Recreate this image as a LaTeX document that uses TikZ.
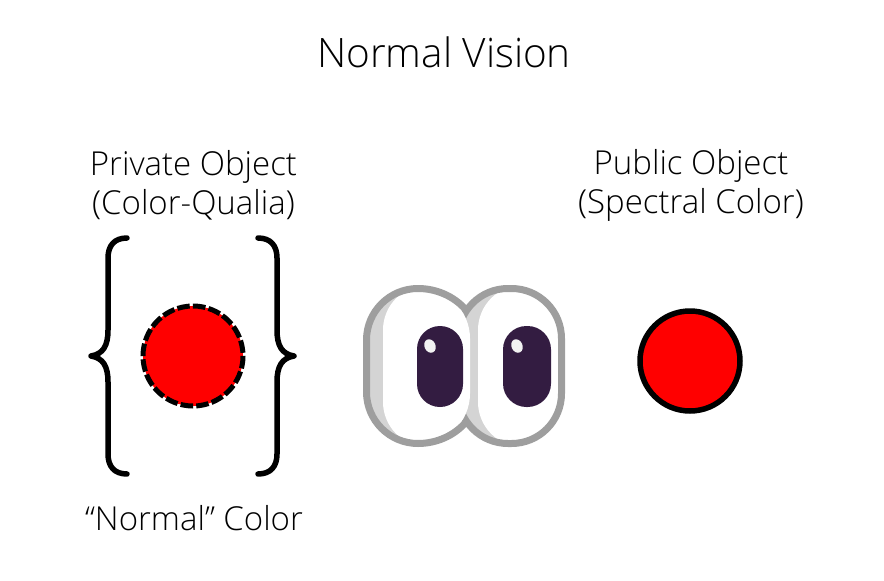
\documentclass[tikz,border=0pt]{standalone}
\usepackage{fontspec}
\setmainfont{Open Sans Light}
\definecolor{eyegray}{HTML}{9E9E9E}
\definecolor{eyeshade}{HTML}{D4D4D4}
\definecolor{pupil}{HTML}{331C41}
\definecolor{glint}{HTML}{F2F2F2}
\tikzset{
  labeltext/.style={font=\fontsize{33}{39}\selectfont, align=center, text=black},
  bracket/.style={line width=5.5pt, line cap=round, line join=round, color=black},
  eyeline/.style={line width=7pt, color=eyegray},
}
\begin{document}
\begin{tikzpicture}[x=1pt,y=-1pt]
\useasboundingbox (0,0) rectangle (884,581);

\node [labeltext, font=\fontsize{40.5}{44}\selectfont] (title) at (444,52) {Normal Vision};
\node [labeltext] (private) at (193.5,185) {Private Object\\(Color-Qualia)};
\node [labeltext] (public) at (691,185) {Public Object\\(Spectral Color)};
\node [labeltext] (normal) at (194,518) {``Normal'' Color};

% brackets
\draw [bracket] (127,238) .. controls (114,238) and (108,246) .. (108,258) -- (108,330)
  .. controls (108,346) and (103,354) .. (91,356) .. controls (103,358) and (108,366) .. (108,382)
  -- (108,454) .. controls (108,466) and (114,474) .. (127,474);
\draw [bracket] (258,238) .. controls (271,238) and (277,246) .. (277,258) -- (277,330)
  .. controls (277,346) and (282,354) .. (294,356) .. controls (282,358) and (277,366) .. (277,382)
  -- (277,454) .. controls (277,466) and (271,474) .. (258,474);

% private and public colour
\node [circle, minimum size=100pt, inner sep=0pt, fill=red] (qualia) at (193,356) {};
\draw [line width=5pt, dash pattern=on 12.5pt off 3.2pt] (193,306) arc (-90:270:50);
\node [circle, minimum size=100pt, inner sep=0pt, fill=red, draw=black, line width=5.5pt] (spectral) at (690,361) {};

% right eye
\fill [eyeshade, rounded corners=50pt] (458,288.5) rectangle (561.5,443.5);
\begin{scope}
\clip [rounded corners=50pt] (458,288.5) rectangle (561.5,443.5);
\fill [white, rounded corners=45pt] (478,285) rectangle (600,447);
\end{scope}
\draw [eyeline, rounded corners=50pt] (458,288.5) rectangle (561.5,443.5);

% left eye
\fill [eyeshade, rounded corners=50pt] (366.5,288.5) rectangle (470,443.5);
\begin{scope}
\clip [rounded corners=50pt] (366.5,288.5) rectangle (470,443.5);
\fill [white, rounded corners=45pt] (383,285) rectangle (500,447);
\end{scope}
\draw [eyeline] (466,310) .. controls (454,296) and (436,288.5) .. (418,288.5)
  arc (-90:-180:51.5) -- (366.5,392) arc (180:90:51.5)
  .. controls (436,443.5) and (454,436) .. (466,422);

% pupils
\fill [pupil, rounded corners=23pt] (417,326) rectangle (463,407);
\fill [pupil, rounded corners=23.5pt] (503,326) rectangle (551,407);
\fill [glint, rotate around={25:(430,346)}] (430,346) ellipse (5.5 and 7);
\fill [glint, rotate around={25:(517,346)}] (517,346) ellipse (5.5 and 7);

\end{tikzpicture}
\end{document}
